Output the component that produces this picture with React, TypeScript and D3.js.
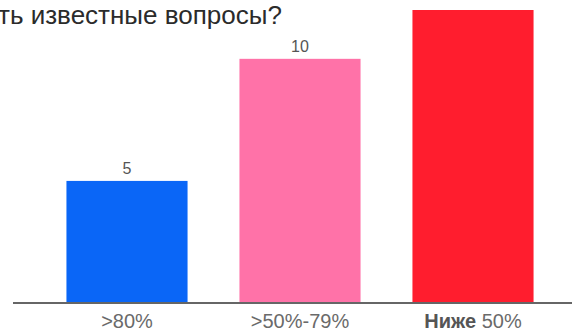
import React from "react";
import * as d3 from "d3";

const categories = [">80%", ">50%-79%", "Ниже 50%"];
const values = [5, 10, 12];
const colors = ["#0a66f7", "#ff72a8", "#ff1d2e"];
const title = "ть известные вопросы?";

const W = 572;
const H = 333;

export default function App() {
  const x = d3.scaleBand<string>().domain(categories).range([40.5, 559.5]).paddingInner(0.3).paddingOuter(0.15);
  const y = d3.scaleLinear().domain([0, 12]).range([303, 10]);
  return (
    <svg width={W} height={H} style={{ position: "absolute", left: 0, top: 0, background: "#fff" }}>
      <text x={-2} y={24} fontFamily="Liberation Sans, Arial, sans-serif" fontSize={26} fill="#2b2b2b">{title}</text>
      {categories.map((c, i) => {
        const ly = y(values[i]) - 7;
        return (
          <g key={c}>
            <rect x={x(c)} y={y(values[i])} width={x.bandwidth()} height={y(0) - y(values[i])} fill={colors[i]} />
            {ly > 14 && (
              <text x={(x(c) as number) + x.bandwidth() / 2} y={ly} textAnchor="middle"
                fontFamily="Liberation Sans Narrow, Liberation Sans, Arial, sans-serif" fontSize={16} fill="#555">{values[i]}</text>
            )}
          </g>
        );
      })}
      <line x1={13} x2={W} y1={303} y2={303} stroke="#666" strokeWidth={2} />
      {categories.map((c, i) => {
        const cx = (x(c) as number) + x.bandwidth() / 2;
        if (c.startsWith("Ниже")) {
          const parts = c.split(" ");
          return (
            <text key={c} x={cx} y={328} textAnchor="middle" fontFamily="Liberation Sans, Arial, sans-serif" fontSize={20} fill="#6a6a6a">
              <tspan fontWeight="bold" fill="#555">{parts[0]}</tspan> <tspan>{parts[1]}</tspan>
            </text>
          );
        }
        return (
          <text key={c} x={cx} y={328} textAnchor="middle" fontFamily="Liberation Sans, Arial, sans-serif" fontSize={20} fill="#6a6a6a">{c}</text>
        );
      })}
    </svg>
  );
}
